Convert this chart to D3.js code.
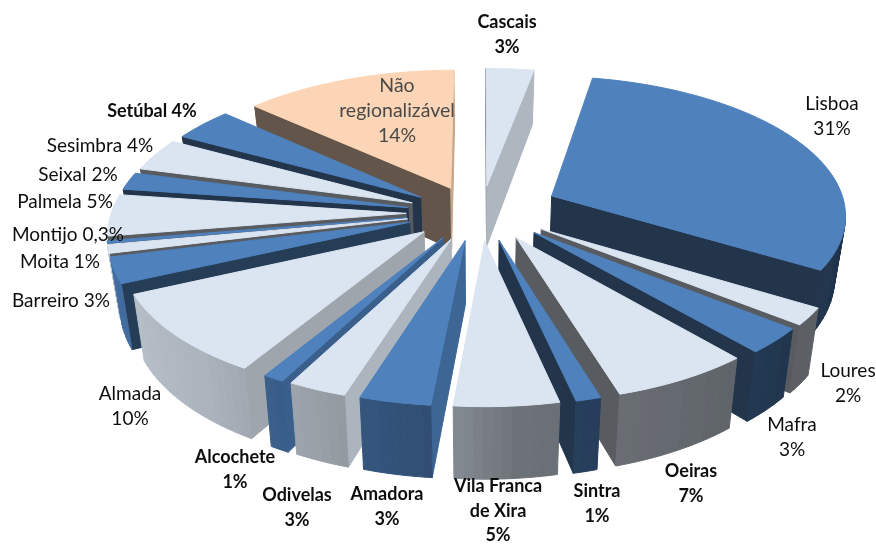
<!DOCTYPE html>
<html><head><meta charset="utf-8">
<script src="https://cdnjs.cloudflare.com/ajax/libs/d3/7.8.5/d3.min.js"></script>
<style>html,body{margin:0;padding:0;background:#fff}svg{display:block}</style>
</head><body><div id="chart"></div>
<script>
const categories=["Cascais","Lisboa","Loures","Mafra","Oeiras","Sintra","Vila Franca de Xira","Amadora","Odivelas","Alcochete","Almada","Barreiro","Moita","Montijo","Palmela","Seixal","Sesimbra","Setúbal","Não regionalizável"];
const values=[3,31,2,3,6.7,1.2,5,3.4,2.8,1,9.6,3,1,0.3,4.8,2,3.8,3.8,13.4];
const valueLabels=["3%","31%","2%","3%","7%","1%","5%","3%","3%","1%","10%","3%","1%","0,3%","5%","2%","4%","4%","14%"];

// layout, separate from the data
const W=876,H=545,cx=480,cy=213,Rx=295,Ry=138,persp=8.26,depth=62,taper=0.03,explodeDefault=0.25,explodeYFactor=0.8;
const explodeBy={Lisboa:[0.27,1.15]};
const blue="#4F81BD",light="#DBE5F1",peach="#FBD5B5";
const topColor=i=>i===18?peach:(["Lisboa","Mafra","Sintra","Amadora","Alcochete","Barreiro","Montijo","Seixal","Setúbal"].includes(categories[i])?blue:light);
const labelLayout={
 "Cascais":{x:507,y:23,lines:["Cascais"],bold:1},
 "Lisboa":{x:832,y:105,lines:["Lisboa"]},
 "Loures":{x:848,y:372,lines:["Loures"]},
 "Mafra":{x:792,y:426,lines:["Mafra"]},
 "Oeiras":{x:691,y:472,lines:["Oeiras"],bold:1},
 "Sintra":{x:597,y:492,lines:["Sintra"],bold:1},
 "Vila Franca de Xira":{x:498,y:487,lines:["Vila Franca","de Xira"],bold:1,step:24.5},
 "Amadora":{x:387,y:495,lines:["Amadora"],bold:1},
 "Odivelas":{x:297,y:496,lines:["Odivelas"],bold:1},
 "Alcochete":{x:235,y:458,lines:["Alcochete"],bold:1},
 "Almada":{x:130,y:395,lines:["Almada"]},
 "Barreiro":{x:61,y:302,lines:["Barreiro"],inline:" "},
 "Moita":{x:60,y:263,lines:["Moita"],inline:" "},
 "Montijo":{x:68,y:236,lines:["Montijo"],inline:" "},
 "Palmela":{x:65,y:203,lines:["Palmela"],inline:" "},
 "Seixal":{x:78,y:176,lines:["Seixal"],inline:" "},
 "Sesimbra":{x:100,y:147,lines:["Sesimbra"],inline:"  "},
 "Setúbal":{x:152,y:112,lines:["Setúbal"],inline:"  ",bold:1},
 "Não regionalizável":{x:397,y:87,lines:["Não","regionalizável"],grey:1}
};

const outerShade=d3.scaleLinear().domain([0,100,130,175,185,200,220,270,360]).range([.75,.4,.42,.5,.6,.68,.78,.88,.85]);
const edgeShade=d3.scaleLinear().domain([0,90,105,125,165,360]).range([.8,.78,.8,.7,.4,.4]);
const norm=a=>((a%360)+360)%360, deg=r=>r*180/Math.PI;
function shade(c,f){const k=d3.rgb(c);return d3.rgb(k.r*f,k.g*f,k.b*f).formatHex();}

function project(x,y,z){
  const k=persp/(persp-y);
  const t=1-taper*z;
  return [cx+x*Rx*k*t, cy+y*Ry*k+z*depth*k];
}
const line=d3.line();
const pie=d3.pie().sort(null).value(d=>d).startAngle(0).endAngle(2*Math.PI);
const arcs=pie(values).map((a,i)=>{
  const mid=(a.startAngle+a.endAngle)/2, ex=explodeBy[categories[i]]||[explodeDefault,explodeYFactor];
  return {i,a0:a.startAngle,a1:a.endAngle,mid,ox:Math.sin(mid)*ex[0],oy:-Math.cos(mid)*ex[0]*ex[1]};
}).sort((p,q)=>p.oy-q.oy);

const svg=d3.select("#chart").append("svg").attr("width",W).attr("height",H).attr("viewBox",`0 0 ${W} ${H}`);
const defs=svg.append("defs");
defs.append("filter").attr("id","soft").append("feGaussianBlur").attr("stdDeviation",0.45);
defs.append("filter").attr("id","softPie").append("feGaussianBlur").attr("stdDeviation",0.6);
const gPie=svg.append("g").attr("class","pie").attr("filter","url(#softPie)");

function facing(nAngle,px,py){
  const nx=Math.sin(nAngle),ny=-Math.cos(nAngle);
  return nx*(0-px)+ny*(persp-py)>0;
}
function poly(g,pts,fill){
  g.append("path").attr("d",line(pts)+"Z").attr("fill",fill).attr("stroke",fill).attr("stroke-width",1);
}
arcs.forEach(s=>{
  const g=gPie.append("g").attr("data-name",categories[s.i]);
  const col=topColor(s.i);
  const P=(th,z,r=1)=>project(s.ox+Math.sin(th)*r,s.oy-Math.cos(th)*r,z);
  const n=Math.max(4,Math.ceil((s.a1-s.a0)/0.03));
  const ths=d3.range(n+1).map(j=>s.a0+(s.a1-s.a0)*j/n);
  [[s.a0,s.a0-Math.PI/2],[s.a1,s.a1+Math.PI/2]].forEach(([th,nA])=>{
    const mx=s.ox+Math.sin(th)*.5,my=s.oy-Math.cos(th)*.5;
    if(!facing(nA,mx,my))return;
    poly(g,[P(th,0,0),P(th,0),P(th,1),P(th,1,0)],shade(col,edgeShade(norm(deg(nA)))));
  });
  for(let j=0;j<n;j++){
    const th=(ths[j]+ths[j+1])/2;
    const mx=s.ox+Math.sin(th),my=s.oy-Math.cos(th);
    if(!facing(th,mx,my))continue;
    poly(g,[P(ths[j],0),P(ths[j+1],0),P(ths[j+1],1),P(ths[j],1)],shade(col,outerShade(norm(deg(th)))));
  }
  poly(g,[P(0,0,0),...ths.map(t=>P(t,0))],col);
});

const gLab=svg.append("g").attr("font-family","Lato, Carlito, sans-serif").attr("text-anchor","middle").attr("filter","url(#soft)").style("white-space","pre");
categories.forEach((c,i)=>{
  const L=labelLayout[c];
  const step=L.step||25;
  const t=gLab.append("text").attr("x",L.x).attr("y",L.y).attr("dominant-baseline","middle")
    .attr("font-size",L.grey?19.5:L.bold?18:19)
    .attr("fill",L.grey?"#4a4a4a":"#111").attr("font-weight",L.bold?700:400);
  const rows=L.inline?[L.lines[0]+L.inline+valueLabels[i]]:[...L.lines,valueLabels[i]];
  rows.forEach((s,j)=>t.append("tspan").attr("x",L.x).attr("y",L.y+j*step).text(s));
});
</script></body></html>
